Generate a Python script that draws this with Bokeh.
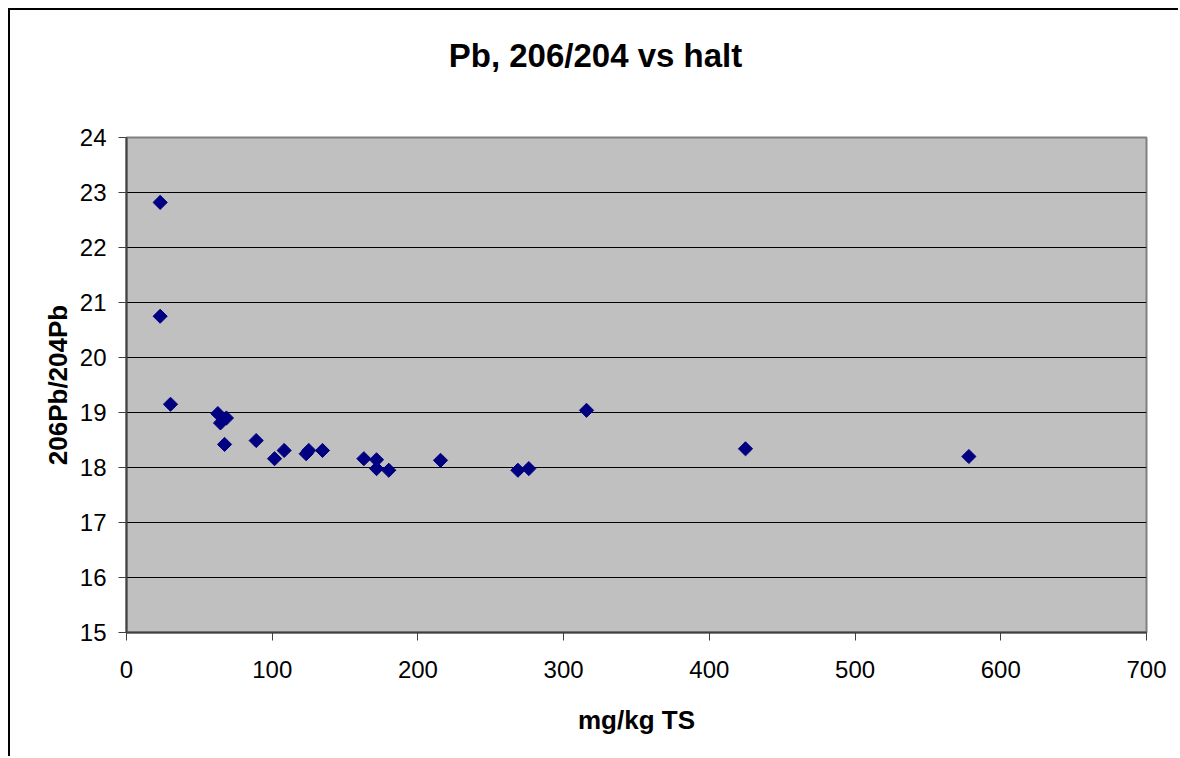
from bokeh.plotting import figure
from bokeh.models import FixedTicker, Range1d, Label
from bokeh.embed import file_html
from bokeh.resources import INLINE
import math

# data (mg/kg TS, 206Pb/204Pb)
halt = [23.1, 23.1, 30.2, 62.7, 68.6, 64.5, 67.3, 89.0, 101.6, 108.2, 123.3,
        125.1, 134.5, 162.9, 171.6, 171.6, 180.0, 215.5, 268.6, 276.1, 315.7,
        424.8, 578.1]
ratio = [22.82, 20.75, 19.15, 18.98, 18.90, 18.81, 18.42, 18.49, 18.16, 18.31, 18.25,
         18.31, 18.31, 18.16, 18.14, 17.98, 17.95, 18.13, 17.95, 17.98, 19.04,
         18.34, 18.20]
x_ticks = [0, 100, 200, 300, 400, 500, 600, 700]
y_ticks = [15, 16, 17, 18, 19, 20, 21, 22, 23, 24]

FONT = "Liberation Sans"

p = figure(width=1170, height=748, output_backend="svg", toolbar_location=None,
           x_range=Range1d(0, 700), y_range=Range1d(15, 24),
           min_border_left=116, min_border_right=34,
           min_border_top=127, min_border_bottom=126,
           background_fill_color="#C0C0C0", border_fill_color="white",
           outline_line_color="#808080", outline_line_width=2)
p.styles = {"margin-left": "8px", "margin-top": "8px",
            "border-left": "2px solid black", "border-top": "2px solid black"}

# chart title, placed in the panel above the frame (screen px from its bottom-left)
title = Label(x=469, y=82, x_units="screen", y_units="screen",
              text="Pb, 206/204 vs halt", text_align="center", text_baseline="middle",
              text_font=FONT, text_font_size="33px", text_font_style="bold",
              text_color="black")
p.add_layout(title, "above")

p.scatter(halt, ratio, marker="square", angle=math.pi / 4, size=10,
          fill_color="#000080", line_color="#000080")

p.xgrid.visible = False
p.ygrid.grid_line_color = "black"
p.ygrid.grid_line_width = 1
p.ygrid.ticker = FixedTicker(ticks=y_ticks)

p.xaxis.ticker = FixedTicker(ticks=x_ticks)
p.yaxis.ticker = FixedTicker(ticks=y_ticks)
for ax in (p.xaxis[0], p.yaxis[0]):
    ax.axis_line_color = "#404040"
    ax.axis_line_width = 2
    ax.major_tick_line_color = "#404040"
    ax.major_tick_in = 0
    ax.major_tick_out = 8
    ax.minor_tick_line_color = None
    ax.major_label_text_font = FONT
    ax.major_label_text_font_size = "24px"
    ax.major_label_text_color = "black"
    ax.axis_label_text_font = FONT
    ax.axis_label_text_font_size = "26px"
    ax.axis_label_text_font_style = "bold"
    ax.axis_label_text_color = "black"

p.xaxis.axis_label = "mg/kg TS"
p.yaxis.axis_label = "206Pb/204Pb"
p.xaxis.major_label_standoff = 20
p.yaxis.major_label_standoff = 12
p.xaxis.axis_label_standoff = 24
p.yaxis.axis_label_standoff = 4

open("out.html", "w").write(file_html(p, INLINE))
